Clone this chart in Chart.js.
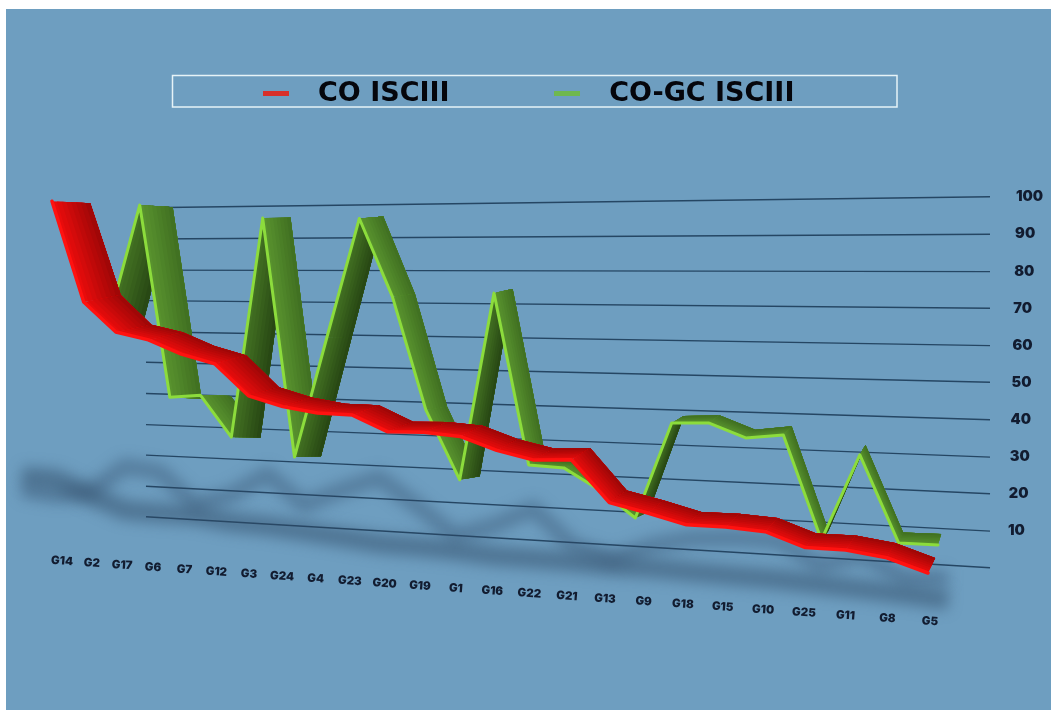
<!DOCTYPE html>
<html>
<head>
<meta charset="utf-8">
<script src="https://cdn.jsdelivr.net/npm/chart.js@4"></script>
<style>
html, body { margin: 0; background: #fff; overflow: hidden; }
canvas { display: block; }
</style>
</head>
<body>
<canvas id="chart" width="1051" height="711"></canvas>
<script>
var groups = ['G14','G2','G17','G6','G7','G12','G3','G24','G4','G23','G20','G19','G1','G16','G22','G21','G13','G9','G18','G15','G10','G25','G11','G8','G5'];
var coIsciii = [100,67,57.6,55.5,51.4,48.8,39.2,36.4,35,35,30.5,31,30.4,26.9,24.7,25.5,13.7,11.5,8.9,9.1,8.6,5,5.2,3.9,0.6];
var coGcIsciii = [64,100,38,39,26,95.4,20.6,58,95,71,36.7,16,72.3,21.4,21,15,7.4,35.3,35.7,31.8,33,4.1,28.3,4.5,4.6];
var shadowCo = [11.1,10.7,6.1,1.8,1.5,1.6,0,-0.5,-1.5,-2.6,-3.8,-4,-4.5,-5.3,-5.4,-5.6,-5.9,-5.9,-6.3,-6.6,-6.8,-7.4,-8,-8.6,-9.4];
var shadowCoGc = [6.5,5.4,7,16,14.7,4.8,8.6,15.8,6.7,11.9,16.4,8.4,0,3.7,9.4,-0.9,-3.9,0.7,3.4,4.2,4.2,-2.1,1.4,-4.2,-3.4];

// the picture is a tilted 3D slide: scale fractions are mapped onto the slanted wall
function wallX(t) { return 52 + 876 * (0.863 * t + 0.137 * t * t); }
function wallY(f, x) {
  var s = (x - 147) / 843;
  var yl = 517 - 309 * f;
  var yr = 568 - 371 * f;
  return yl + (yr - yl) * s;
}

function dash(color) {
  var c = document.createElement('canvas');
  c.width = 26;
  c.height = 5;
  var g = c.getContext('2d');
  g.fillStyle = color;
  g.fillRect(0, 0, 26, 5);
  return c;
}

var tiltPlugin = {
  id: 'tilt',
  afterLayout: function (chart) {
    // move the legend into its frame
    chart.legend.top -= 8;
    chart.legend.left -= 30;
    chart.legend.right -= 30;
  },
  afterDatasetsUpdate: function (chart) {
    var xs = chart.scales.x, ys = chart.scales.y;
    chart.data.datasets.forEach(function (ds, i) {
      chart.getDatasetMeta(i).data.forEach(function (pt, u) {
        var t = (xs.getPixelForValue(u) - xs.left) / (xs.right - xs.left);
        var f = (ys.bottom - pt.y) / (ys.bottom - ys.top);
        var x = wallX(t) + ds.shiftX(u);
        pt.x = x;
        pt.y = wallY(f, x) + ds.lift(u);
      });
    });
  },
  beforeDraw: function (chart) {
    var ctx = chart.ctx, xs = chart.scales.x, ys = chart.scales.y;
    ctx.fillStyle = '#6e9ec0';
    ctx.fillRect(6, 9, 1045, 701);

    // legend frame
    ctx.strokeStyle = '#e6f3f7';
    ctx.lineWidth = 1.5;
    ctx.strokeRect(172.5, 75.5, 724.5, 31.5);

    ys._gridLineItems = ys._computeGridLineItems(chart.chartArea);
    ys._gridLineItems.forEach(function (it) {
      var f = (ys.bottom - it.y1) / (ys.bottom - ys.top);
      it.x1 = 146;
      it.x2 = 990;
      it.y1 = wallY(f, 146);
      it.y2 = wallY(f, 990);
    });
    ys.getLabelItems().forEach(function (it, i) {
      var v = ys.ticks[i].value;
      it.textOffset = 0;
      it.options.textAlign = 'left';
      it.options.textBaseline = 'middle';
      it.options.translation = [1007 + 0.09 * v, 568 - 3.71 * v];
    });
    xs.getLabelItems().forEach(function (it, i) {
      var t = i / (groups.length - 1);
      var x = 62 + 868 * (0.815 * t + 0.185 * t * t);
      it.textOffset = 0;
      it.options.textAlign = 'center';
      it.options.textBaseline = 'middle';
      it.options.rotation = 0.07;
      it.options.translation = [x, 561 + 0.0695 * (x - 62)];
    });
  },
  beforeDatasetDraw: function (chart, args) {
    var ctx = chart.ctx;
    var ds = chart.data.datasets[args.index];
    if (ds.blur) ctx.filter = 'blur(' + ds.blur + 'px)';
    if (!ds.face) return;
    // ribbon faces, painted left to right so falling faces cover rising ones.
    // each face is laid in strips front to back, that way the shading follows the ribbon
    var pts = args.meta.data;
    var strips = 8;
    for (var u = 0; u < pts.length - 1; u++) {
      var a = pts[u], b = pts[u + 1];
      var adx = ds.depthX(u), ady = ds.depthY(u);
      var bdx = ds.depthX(u + 1), bdy = ds.depthY(u + 1);
      var c = ds.face(a.y, b.y);
      for (var k = 0; k < strips; k++) {
        var m = k / strips;
        ctx.fillStyle = 'rgb(' + [0, 1, 2].map(function (n) {
          return Math.round(c[0][n] + (c[1][n] - c[0][n]) * m);
        }).join(',') + ')';
        ctx.beginPath();
        ctx.moveTo(a.x + adx * m, a.y + ady * m);
        ctx.lineTo(b.x + bdx * m, b.y + bdy * m);
        ctx.lineTo(b.x + bdx, b.y + bdy);
        ctx.lineTo(a.x + adx, a.y + ady);
        ctx.closePath();
        ctx.fill();
      }
    }
  },
  afterDatasetDraw: function (chart) {
    chart.ctx.filter = 'none';
  }
};

var ctx = document.getElementById('chart').getContext('2d');
ctx.letterSpacing = '1px';

var chart = new Chart(ctx, {
  type: 'line',
  data: {
    labels: groups,
    datasets: [
      {
        label: 'CO ISCIII',
        data: coIsciii,
        borderColor: '#ff1210',
        backgroundColor: '#d8302a',
        borderWidth: 3.5,
        clip: false,
        shiftX: function () { return 0; },
        lift: function (u) { return -8 + 0.79 * u; },
        depthX: function (u) { return 38.3 - 1.3 * u; },
        depthY: function (u) { return u === 0 ? 2 : -6.6 - 0.35 * u; },
        face: function () { return [[232, 12, 12], [150, 6, 6]]; }
      },
      {
        label: 'CO-GC ISCIII',
        data: coGcIsciii,
        borderColor: '#8cdc3c',
        backgroundColor: '#6fb84f',
        borderWidth: 3,
        clip: false,
        shiftX: function (u) { return 58 - 2 * u; },
        lift: function () { return -3; },
        depthX: function (u) { return 34.3 - 1.3 * u; },
        depthY: function (u) { return 2.6 - 0.57 * u; },
        face: function (y0, y1) {
          return y1 < y0 - 8 ? [[66, 112, 34], [36, 66, 18]] : [[88, 146, 46], [62, 108, 32]];
        }
      },
      {
        label: 'shadow CO',
        data: shadowCo,
        borderColor: 'rgba(48,76,104,0.5)',
        borderWidth: 20,
        borderCapStyle: 'butt',
        clip: false,
        blur: 7,
        shiftX: function (u) { return -30 + 2.1 * u; },
        lift: function () { return 0; }
      },
      {
        label: 'shadow CO-GC',
        data: shadowCoGc,
        borderColor: 'rgba(48,76,104,0.4)',
        borderWidth: 16,
        borderCapStyle: 'butt',
        clip: false,
        blur: 7,
        shiftX: function (u) { return -30 + 2.1 * u; },
        lift: function () { return 0; }
      }
    ]
  },
  options: {
    responsive: false,
    animation: false,
    events: [],
    // the axis boxes are stretched because the library clips tick labels to them
    layout: { padding: { left: 50, right: 0, bottom: 60 } },
    elements: {
      point: { radius: 0 },
      line: { tension: 0, borderJoinStyle: 'round', borderCapStyle: 'round' }
    },
    scales: {
      x: {
        afterFit: function (s) { s.height = 100; },
        grid: { display: false, drawTicks: false },
        border: { display: false },
        ticks: {
          autoSkip: false,
          maxRotation: 0,
          color: '#121c30',
          font: { family: 'Inter', size: 11.5, weight: '900' }
        }
      },
      y: {
        position: 'right',
        min: 0,
        max: 100,
        afterFit: function (s) { s.width = 100; },
        grid: { color: '#254663', lineWidth: 1.4, drawTicks: false },
        border: { display: false },
        ticks: {
          stepSize: 10,
          color: '#121c30',
          font: { family: 'Inter', size: 14.5, weight: '900' },
          callback: function (v) { return v === 0 ? '' : v; }
        }
      }
    },
    plugins: {
      tooltip: { enabled: false },
      legend: {
        position: 'top',
        labels: {
          usePointStyle: true,
          pointStyleWidth: 58,
          padding: 88,
          color: '#05060c',
          font: { family: 'DejaVu Sans', size: 27, weight: 'bold' },
          generateLabels: function (c) {
            return Chart.defaults.plugins.legend.labels.generateLabels(c).slice(0, 2).map(function (l, i) {
              l.pointStyle = dash(c.data.datasets[i].backgroundColor);
              return l;
            });
          }
        }
      }
    }
  },
  plugins: [tiltPlugin]
});
</script>
</body>
</html>
